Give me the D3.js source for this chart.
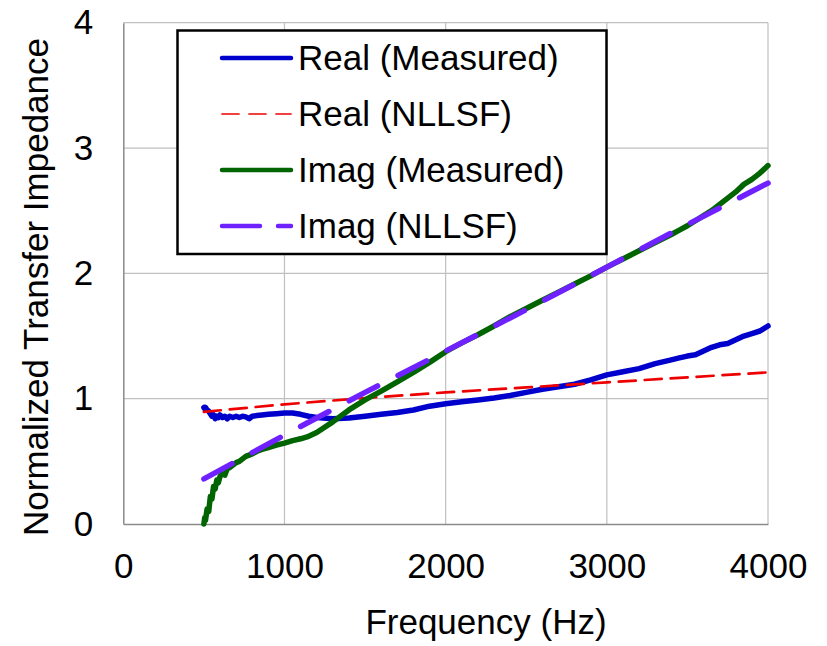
<!DOCTYPE html>
<html>
<head>
<meta charset="utf-8">
<script src="https://cdn.jsdelivr.net/npm/d3@7"></script>
<style>
    body { margin: 0; background: #fff; }
    svg { display: block; font-family: "Liberation Sans", Arial, sans-serif; }
</style>
</head>
<body>
<div id="chart"></div>
<script>
// measured data (shared frequency grid)
const freqMeas = [500, 505, 510, 520, 530, 540, 550, 560, 570, 580, 590, 600, 615, 630, 645, 660, 680, 700,
    720, 740, 760, 780, 800, 830, 860, 900, 950, 1000, 1050, 1100, 1150, 1200, 1300, 1400, 1500, 1600,
    1700, 1800, 1900, 2000, 2100, 2200, 2300, 2400, 2500, 2600, 2700, 2800, 2900, 3000, 3100, 3200,
    3300, 3400, 3450, 3500, 3550, 3600, 3650, 3700, 3750, 3800, 3850, 3900, 3950, 4000];

const realMeas = [0.93, 0.92, 0.93, 0.91, 0.90, 0.88, 0.86, 0.87, 0.84, 0.86, 0.85, 0.87, 0.85, 0.86, 0.84, 0.86, 0.85, 0.86,
    0.85, 0.86, 0.855, 0.84, 0.86, 0.865, 0.87, 0.875, 0.88, 0.885, 0.885, 0.875, 0.86, 0.85, 0.84, 0.845, 0.86, 0.875,
    0.89, 0.91, 0.94, 0.96, 0.975, 0.99, 1.005, 1.025, 1.05, 1.075, 1.095, 1.115, 1.15, 1.19, 1.215, 1.24,
    1.28, 1.31, 1.325, 1.34, 1.35, 1.38, 1.41, 1.43, 1.44, 1.47, 1.50, 1.52, 1.54, 1.58];

const imagMeas = [0.0, 0.05, 0.03, 0.12, 0.10, 0.22, 0.20, 0.30, 0.28, 0.35, 0.33, 0.38, 0.40, 0.39, 0.44, 0.45, 0.47, 0.49,
    0.50, 0.52, 0.54, 0.55, 0.56, 0.58, 0.595, 0.61, 0.63, 0.645, 0.665, 0.68, 0.70, 0.73, 0.815, 0.91, 0.99, 1.06,
    1.135, 1.21, 1.29, 1.375, 1.445, 1.51, 1.58, 1.655, 1.72, 1.785, 1.85, 1.915, 1.98, 2.05, 2.115, 2.18,
    2.245, 2.31, 2.345, 2.38, 2.42, 2.46, 2.50, 2.55, 2.60, 2.65, 2.71, 2.75, 2.80, 2.86];

// NLLSF fits
const freqFit = [500, 1000, 1500, 2000, 2500, 3000, 3500, 4000];
const realFit = [0.895, 0.955, 1.005, 1.05, 1.09, 1.13, 1.17, 1.21];
const imagFit = [0.36, 0.71, 1.05, 1.38, 1.71, 2.05, 2.39, 2.72];

const xTicks = [0, 1000, 2000, 3000, 4000];
const yTicks = [0, 1, 2, 3, 4];

const seriesNames = ['Real (Measured)', 'Real (NLLSF)', 'Imag (Measured)', 'Imag (NLLSF)'];

const series = [
    { name: seriesNames[0], x: freqMeas, y: realMeas, color: '#0000cc', width: 5.5, dash: null },
    { name: seriesNames[1], x: freqFit, y: realFit, color: '#ee0000', width: 2.7, dash: '17,9' },
    { name: seriesNames[2], x: freqMeas, y: imagMeas, color: '#006400', width: 5.5, dash: null },
    { name: seriesNames[3], x: freqFit, y: imagFit, color: '#6f22ff', width: 5.5, dash: '32,23' }
];

const width = 827, height = 646;
const margin = { top: 22.7, right: 59, bottom: 122, left: 123.3 };
const fontSize = 35;

const svg = d3.select('#chart').append('svg')
    .attr('width', width)
    .attr('height', height);

const x = d3.scaleLinear().domain([0, 4000]).range([margin.left, width - margin.right]);
const y = d3.scaleLinear().domain([0, 4]).range([height - margin.bottom, margin.top]);

// gridlines
svg.append('g')
    .selectAll('line.vgrid')
    .data(xTicks.slice(1))
    .enter().append('line')
    .attr('x1', d => x(d)).attr('x2', d => x(d))
    .attr('y1', y(0)).attr('y2', y(4))
    .attr('stroke', '#c0c0c0').attr('stroke-width', 1.2);

svg.append('g')
    .selectAll('line.hgrid')
    .data(yTicks.slice(1))
    .enter().append('line')
    .attr('x1', x(0)).attr('x2', x(4000))
    .attr('y1', d => y(d)).attr('y2', d => y(d))
    .attr('stroke', '#c0c0c0').attr('stroke-width', 1.2);

// axes
const xAxis = svg.append('g')
    .attr('transform', `translate(0,${y(0)})`)
    .call(d3.axisBottom(x).tickValues(xTicks).tickSize(0).tickFormat(d3.format('d')));
xAxis.select('.domain').attr('stroke', '#8a8a8a').attr('stroke-width', 1.5);
xAxis.selectAll('text')
    .attr('dy', null)
    .attr('y', 54)
    .attr('fill', '#000')
    .style('font-size', fontSize + 'px')
    .style('font-family', '"Liberation Sans", Arial, sans-serif');

const yAxis = svg.append('g')
    .attr('transform', `translate(${x(0)},0)`)
    .call(d3.axisLeft(y).tickValues(yTicks).tickSize(0).tickFormat(d3.format('d')));
yAxis.select('.domain').attr('stroke', '#8a8a8a').attr('stroke-width', 1.5);
yAxis.selectAll('text')
    .attr('x', -30)
    .attr('dy', '0.32em')
    .attr('fill', '#000')
    .style('font-size', fontSize + 'px')
    .style('font-family', '"Liberation Sans", Arial, sans-serif');

// axis titles
svg.append('text')
    .attr('x', 486)
    .attr('y', 634)
    .attr('text-anchor', 'middle')
    .style('font-size', fontSize + 'px')
    .text('Frequency (Hz)');

svg.append('text')
    .attr('transform', 'translate(48,287) rotate(-90)')
    .attr('text-anchor', 'middle')
    .style('font-size', fontSize + 'px')
    .text('Normalized Transfer Impedance');

// series lines
series.forEach(s => {
    const pts = s.x.map((f, i) => [f, s.y[i]]);
    svg.append('path')
        .datum(pts)
        .attr('fill', 'none')
        .attr('stroke', s.color)
        .attr('stroke-width', s.width)
        .attr('stroke-linejoin', 'round')
        .attr('stroke-linecap', 'round')
        .attr('stroke-dasharray', s.dash)
        .attr('d', d3.line().x(d => x(d[0])).y(d => y(d[1])));
});

// legend
const legend = svg.append('g');
legend.append('rect')
    .attr('x', 177.5).attr('y', 30.5)
    .attr('width', 429).attr('height', 223.5)
    .attr('fill', '#fff')
    .attr('stroke', '#000')
    .attr('stroke-width', 2.5);

series.forEach((s, i) => {
    const cy = 58 + i * 56;
    legend.append('line')
        .attr('x1', 222).attr('x2', 291)
        .attr('y1', cy).attr('y2', cy)
        .attr('stroke', s.color)
        .attr('stroke-width', s.width - 1)
        .attr('stroke-linecap', 'round')
        .attr('stroke-dasharray', s.dash ? (i === 1 ? '17,10' : '38,18') : null);
    legend.append('text')
        .attr('x', 298)
        .attr('y', cy + 12)
        .style('font-size', fontSize + 'px')
        .text(s.name);
});
</script>
</body>
</html>
